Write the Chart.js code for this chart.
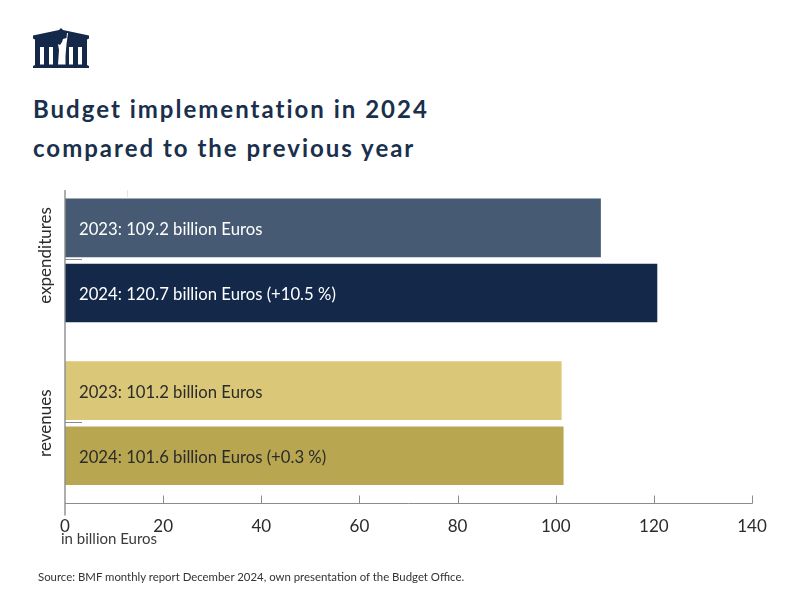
<!DOCTYPE html>
<html><head><meta charset="utf-8">
<script src="https://cdn.jsdelivr.net/npm/chart.js@4"></script>
<style>
html,body{margin:0;padding:0;background:#fff;width:800px;height:600px;overflow:hidden}
#wrap{position:relative;width:800px;height:600px;font-family:Lato,sans-serif}
canvas{position:absolute;left:0;top:0}
h1{position:absolute;left:33px;top:89px;margin:0;font:700 24px/39px Lato,sans-serif;letter-spacing:2px;color:#1a2f4c;white-space:nowrap}
#unit{position:absolute;left:61px;top:530px;font:15px/17px Lato,sans-serif;color:#3a3a3a}
#src{position:absolute;left:38px;top:570px;font:11.4px/14px Lato,sans-serif;color:#333}
svg{position:absolute;left:33px;top:28px}
</style></head><body>
<div id="wrap">
<svg width="57" height="41" viewBox="0 0 57 41"><path fill="#14294a" d="M0 7.5 L26 2 L28 0 L30 2 L56 7.5 V10.5 L54 11.5 V37 L56 38 V40 H0 V38 L2 37 V11.5 L0 10.5 Z"/><path fill="#fff" d="M7 19 H11 V36.5 H7Z M16 19 H20 V36.5 H16Z M36 19 H40 V36.5 H36Z M45 19 H49 V36.5 H45Z M25 36.5 L26 22 L25 16 L27 17 L29 14 L30 11 L33.5 10 L34 5 L35 5 L33.5 16 L32.5 28 L32.5 36.5Z"/></svg>
<h1>Budget implementation in 2024<br>compared to the previous year</h1>
<canvas id="c" width="800" height="600"></canvas>
<div id="unit">in billion Euros</div>
<div id="src">Source: BMF monthly report December 2024, own presentation of the Budget Office.</div>
</div>
<script>
const categories = ['expenditures', 'revenues'];
const values2023 = [109.2, 101.2];
const values2024 = [120.7, 101.6];
const labels2023 = ['2023: 109.2 billion Euros', '2023: 101.2 billion Euros'];
const labels2024 = ['2024: 120.7 billion Euros (+10.5 %)', '2024: 101.6 billion Euros (+0.3 %)'];
const colors2023 = ['#465a73', '#dac778'];
const colors2024 = ['#14294a', '#b8a651'];
const labelColors = ['#ffffff', '#2b2b2b'];
const xTicks = [0, 20, 40, 60, 80, 100, 120, 140];
const axisGrey = '#8c8c8c';

const overlay = {
  id: 'overlay',
  afterDatasetsDraw(chart) {
    const {ctx, scales: {x, y}} = chart;
    const baseY = Math.round(y.bottom) - 1.5;
    ctx.save();
    ctx.strokeStyle = axisGrey;
    // vertical axis (runs slightly lower than the plot area)
    ctx.lineWidth = 1.4;
    ctx.beginPath();
    ctx.moveTo(x.left, y.top + 11);
    ctx.lineTo(x.left, y.bottom + 11);
    ctx.stroke();
    ctx.lineWidth = 1;
    // horizontal axis line
    ctx.beginPath();
    ctx.moveTo(x.left, baseY);
    ctx.lineTo(x.right + 0.5, baseY);
    ctx.stroke();
    // inward x ticks
    xTicks.forEach(v => {
      if (v === 0) return;
      const px = Math.round(x.getPixelForValue(v)) + 0.5;
      ctx.beginPath();
      ctx.moveTo(px, baseY);
      ctx.lineTo(px, baseY - 8);
      ctx.stroke();
    });
    // inward category ticks
    categories.forEach((c, i) => {
      const py = Math.round(y.getPixelForValue(i)) - 0.5;
      ctx.beginPath();
      ctx.moveTo(x.left, py);
      ctx.lineTo(x.left + 17, py);
      ctx.stroke();
    });
    // faint stray tick above the top bar
    ctx.strokeStyle = '#e4e4e4';
    ctx.beginPath();
    ctx.moveTo(127.5, y.top + 11);
    ctx.lineTo(127.5, y.top + 18);
    ctx.stroke();
    // rotated category labels
    ctx.fillStyle = '#2b2b2b';
    ctx.font = '17px Lato, sans-serif';
    ctx.textAlign = 'center';
    ctx.textBaseline = 'middle';
    categories.forEach((c, i) => {
      ctx.save();
      ctx.translate(46, y.getPixelForValue(i) - (i === 0 ? 5 : 0));
      ctx.rotate(-Math.PI / 2);
      ctx.fillText(c, 0, 0);
      ctx.restore();
    });
    // labels inside the bars
    ctx.font = '16.7px Lato, sans-serif';
    ctx.textAlign = 'left';
    [labels2023, labels2024].forEach((labels, d) => {
      const meta = chart.getDatasetMeta(d);
      labels.forEach((t, i) => {
        ctx.fillStyle = labelColors[i];
        ctx.fillText(t, x.left + 14, meta.data[i].y + 1.5);
      });
    });
    ctx.restore();
  }
};

new Chart(document.getElementById('c'), {
  type: 'bar',
  data: {
    labels: categories,
    datasets: [
      {label: '2023', data: values2023, backgroundColor: colors2023, categoryPercentage: 0.8, barPercentage: 0.9},
      {label: '2024', data: values2024, backgroundColor: colors2024, categoryPercentage: 0.8, barPercentage: 0.9}
    ]
  },
  options: {
    indexAxis: 'y',
    responsive: false,
    animation: false,
    devicePixelRatio: 1,
    layout: {padding: {left: 57, right: 48, top: 179, bottom: 59}},
    plugins: {legend: {display: false}, tooltip: {enabled: false}, title: {display: false}},
    scales: {
      x: {
        type: 'linear', min: 0, max: 140,
        afterBuildTicks(s) { s.ticks = xTicks.map(v => ({value: v})); },
        grid: {display: false},
        border: {display: false},
        ticks: {color: '#2b2b2b', font: {family: 'Lato', size: 17}, padding: 4, maxRotation: 0}
      },
      y: {
        type: 'category',
        grid: {display: false},
        border: {display: false},
        ticks: {display: false}
      }
    }
  },
  plugins: [overlay]
});
</script>
</body></html>
